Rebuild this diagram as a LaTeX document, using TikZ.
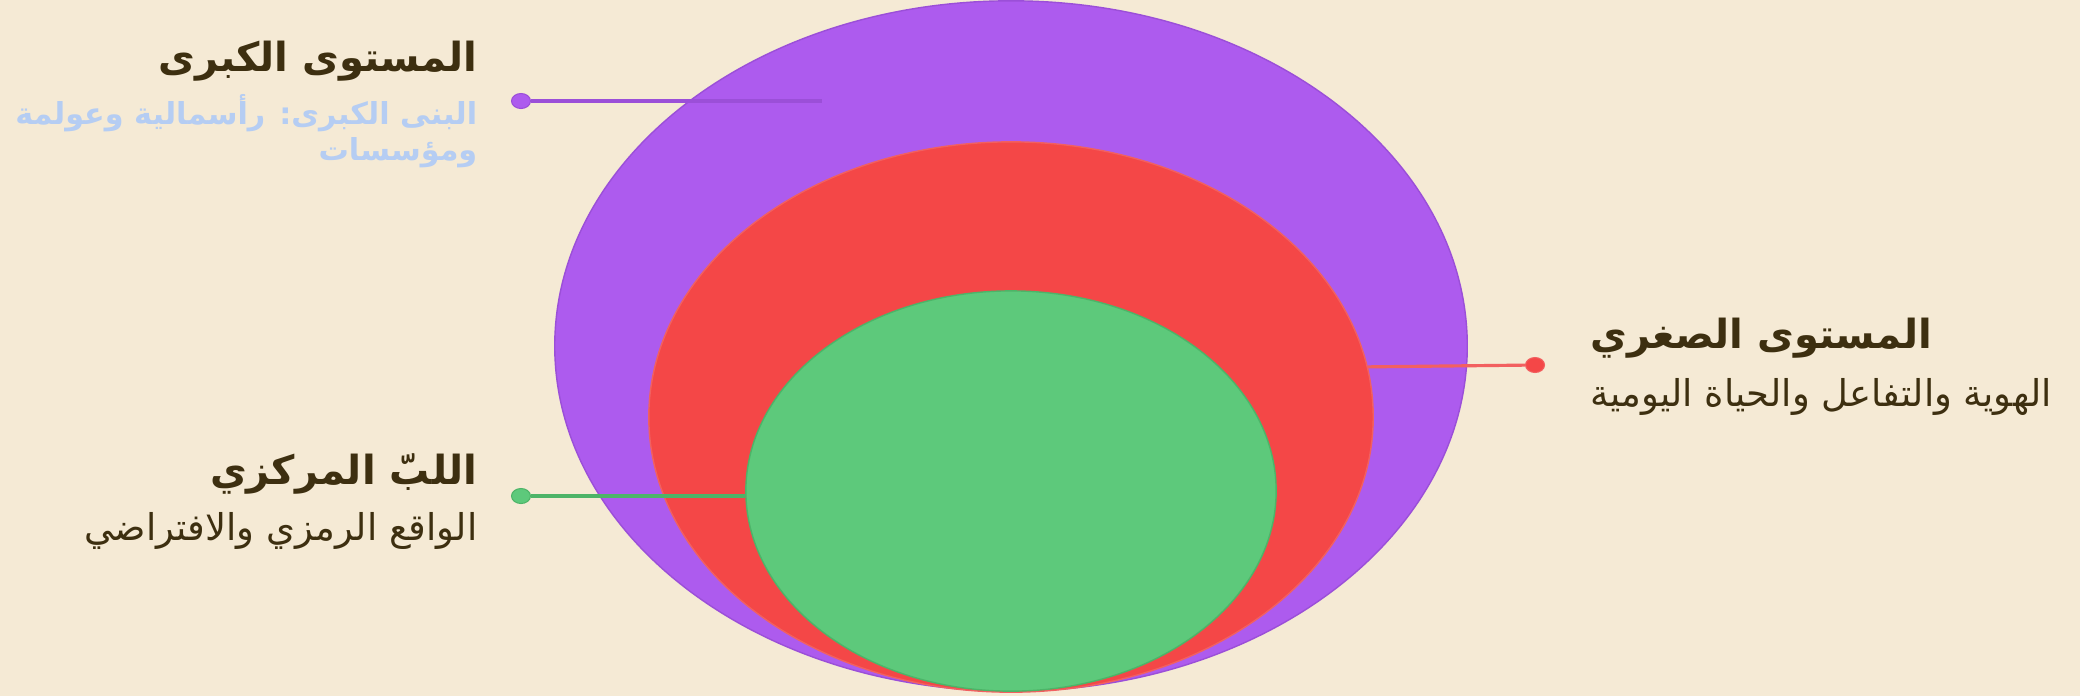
\documentclass[tikz,border=0pt]{standalone}
\usepackage{fontspec}
\usetikzlibrary{shapes.geometric}
\newfontfamily\arabicfont[Script=Arabic]{DejaVu Sans}
\TeXXeTstate=1
\definecolor{bgcream}{HTML}{F5EAD5}
\definecolor{macrofill}{HTML}{AD5BEE}
\definecolor{macroline}{HTML}{9B4FD8}
\definecolor{microfill}{HTML}{F44747}
\definecolor{microline}{HTML}{F26060}
\definecolor{corefill}{HTML}{5DC97B}
\definecolor{coreline}{HTML}{4DB468}
\definecolor{textbrown}{HTML}{3D2F10}
\definecolor{textblue}{HTML}{B5CDF3}
\tikzset{
  ring/.style={ellipse,draw,inner sep=0pt,line width=0.4pt},
  dot/.style={ellipse,draw,inner sep=0pt,minimum width=0.19cm,minimum height=0.15cm,line width=0.3pt},
  leader/.style={line width=0.9pt},
  title/.style={font=\arabicfont\bfseries\fontsize{11.4}{13}\selectfont,text=textbrown,inner sep=0pt},
  sub/.style={font=\arabicfont\fontsize{10.5}{12}\selectfont,inner sep=0pt,align=right},
}
\begin{document}
\begin{tikzpicture}[x=0.01cm,y=-0.01cm]
\fill[bgcream] (0,0) rectangle (2080,696);
\useasboundingbox (0,0) rectangle (2080,696);

\node[ring,fill=macrofill,draw=macroline,minimum width=9.12cm,minimum height=6.9cm] (macro) at (1011,346) {};
\coordinate (macroend) at (822,101);
\node[dot,fill=macrofill,draw=macroline] (macrodot) at (521,101) {};
\draw[leader,macroline] (macrodot) -- (macroend);

\node[ring,fill=microfill,draw=microline,minimum width=7.24cm,minimum height=5.5cm] (micro) at (1011,417) {};
\node[ring,fill=corefill,draw=coreline,minimum width=5.3cm,minimum height=4.0cm] (core) at (1011,491) {};

\node[dot,fill=microfill,draw=microline] (microdot) at (1535,365) {};
\draw[leader,microline] (microdot) -- (micro.8.2);
\node[dot,fill=corefill,draw=coreline] (coredot) at (521,496) {};
\draw[leader,coreline] (coredot) -- (coredot -| core.west);

\node[title,anchor=east] (macrotitle) at (478,61) {\beginR المستوى الكبرى\endR};
\node[sub,text=textblue,font=\arabicfont\bfseries\fontsize{8.6}{10.2}\selectfont,anchor=east] (macrosub) at (478,131) {\beginR البنى الكبرى: رأسمالية وعولمة\endR\\\beginR ومؤسسات\endR};

\node[title,anchor=west] (microtitle) at (1590,338) {\beginR المستوى الصغري\endR};
\node[sub,text=textbrown,anchor=west] (microsub) at (1590,397) {\beginR الهوية والتفاعل والحياة اليومية\endR};

\node[title,anchor=east] (coretitle) at (478,474) {\beginR اللبّ المركزي\endR};
\node[sub,text=textbrown,anchor=east] (coresub) at (478,531) {\beginR الواقع الرمزي والافتراضي\endR};
\end{tikzpicture}
\end{document}
